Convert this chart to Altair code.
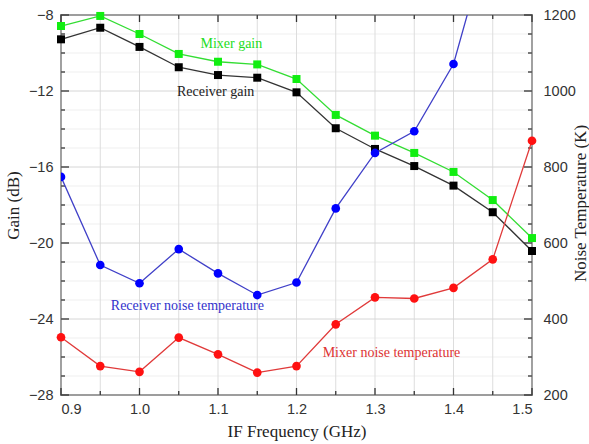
import altair as alt
import pandas as pd

freq = [0.9, 0.95, 1.0, 1.05, 1.1, 1.15, 1.2, 1.25, 1.3, 1.35, 1.4, 1.45, 1.5]
mixer_gain = [-8.58, -8.05, -9.0, -10.05, -10.46, -10.6, -11.37, -13.26, -14.35, -15.26, -16.26, -17.74, -19.74]
receiver_gain = [-9.28, -8.67, -9.68, -10.75, -11.16, -11.3, -12.07, -13.96, -15.05, -15.95, -16.98, -18.38, -20.42]
receiver_noise = [774, 542, 494, 584, 520, 463, 496, 691, 837, 894, 1071, 1440]
mixer_noise = [352, 276, 261, 351, 307, 259, 276, 386, 457, 454, 482, 557, 869]

x_labels = [0.9, 1.0, 1.1, 1.2, 1.3, 1.4, 1.5]
x_ticks = [0.9, 0.95, 1.0, 1.05, 1.1, 1.15, 1.2, 1.25, 1.3, 1.35, 1.4, 1.45, 1.5]
gain_labels = [-28, -24, -20, -16, -12, -8]
gain_minor = [v for v in range(-27, -8) if v % 4 != 0]
noise_labels = [200, 400, 600, 800, 1000, 1200]

ann_text = ["Mixer gain", "Receiver gain", "Receiver noise temperature", "Mixer noise temperature"]
ann_x = [1.117, 1.097, 1.061, 1.321]
ann_y = [-9.53, -12.05, -23.32, -25.81]
ann_color = ["#22dd22", "#222222", "#3333cc", "#dd3333"]

W, H = 471, 380
SANS = "Liberation Sans"
SERIF = "Liberation Serif"

xscale = alt.Scale(domain=[0.9, 1.5], nice=False, zero=False)
yscale = alt.Scale(domain=[-28, -8], nice=False, zero=False)
nscale = alt.Scale(domain=[200, 1200], nice=False, zero=False)

xaxis = alt.Axis(values=x_labels, format=".1f", labelFont=SANS, labelFontSize=14.5,
                 labelColor="#333", ticks=False, domain=False, grid=False, labelPadding=7,
                 title="IF Frequency (GHz)", titleFont=SERIF, titleFontSize=17,
                 titleFontWeight="normal", titleColor="#222", titleBaseline="middle",
                 titleY=36)
yaxis = alt.Axis(values=gain_labels, format="d", labelFont=SANS, labelFontSize=14.5,
                 labelColor="#333", ticks=False, domain=False, grid=False, labelPadding=8,
                 title="Gain (dB)", titleFont=SERIF, titleFontSize=17, titleFontWeight="normal",
                 titleColor="#222", titleAngle=270, titleBaseline="middle", titleX=-48, titleY=H / 2)
naxis = alt.Axis(values=noise_labels, format="d", orient="right", labelFont=SANS,
                 labelFontSize=14.5, labelColor="#333", ticks=False, domain=False, grid=False,
                 labelPadding=11,
                 title="Noise Temperature (K)", titleFont=SERIF, titleFontSize=17,
                 titleFontWeight="normal", titleColor="#222", titleAngle=270,
                 titleBaseline="middle", titleX=48, titleY=H / 2 - 2)

X = alt.X("x:Q", scale=xscale, axis=xaxis)
Y = alt.Y("y:Q", scale=yscale, axis=yaxis)
N = alt.Y("y:Q", scale=nscale, axis=naxis)

mg = pd.DataFrame({"x": freq, "y": mixer_gain})
rg = pd.DataFrame({"x": freq, "y": receiver_gain})
rn = pd.DataFrame({"x": freq[:len(receiver_noise)], "y": receiver_noise})
mn = pd.DataFrame({"x": freq, "y": mixer_noise})

vgrid = pd.DataFrame({"x": x_ticks})
hmajor = pd.DataFrame({"y": gain_labels})
hminor = pd.DataFrame({"y": gain_minor})
xmaj = pd.DataFrame({"x": x_labels})
xmin_ = pd.DataFrame({"x": [v for v in x_ticks if v not in x_labels]})
ann = pd.DataFrame({"x": ann_x, "y": ann_y, "t": ann_text, "c": ann_color})

layers = []
layers.append(alt.Chart(hminor).mark_rule(color="#efefef", strokeWidth=1).encode(y=Y))
layers.append(alt.Chart(vgrid).mark_rule(color="#dddddd", strokeWidth=1).encode(x=X))
layers.append(alt.Chart(hmajor).mark_rule(color="#d6d6d6", strokeWidth=1).encode(y=Y))
# inward ticks
for df, ln in [(xmaj, 7), (xmin_, 4)]:
    layers.append(alt.Chart(df).mark_rule(color="#333", strokeWidth=1.3).encode(
        x=X, y=alt.value(H), y2=alt.value(H - ln)))
    layers.append(alt.Chart(df).mark_rule(color="#333", strokeWidth=1.3).encode(
        x=X, y=alt.value(0), y2=alt.value(ln)))
for df, ln in [(hmajor, 8), (hminor, 4)]:
    layers.append(alt.Chart(df).mark_rule(color="#333", strokeWidth=1.3).encode(
        y=Y, x=alt.value(0), x2=alt.value(ln)))
    layers.append(alt.Chart(df).mark_rule(color="#333", strokeWidth=1.3).encode(
        y=Y, x=alt.value(W), x2=alt.value(W - ln)))

layers.append(alt.Chart(mg).mark_line(color="#33dd33", strokeWidth=1.3).encode(x=X, y=Y))
layers.append(alt.Chart(mg).mark_point(shape="square", filled=True, size=64, color="#11ee11",
                                       opacity=1).encode(x=X, y=Y))
layers.append(alt.Chart(rg).mark_line(color="#333333", strokeWidth=1.3).encode(x=X, y=Y))
layers.append(alt.Chart(rg).mark_point(shape="square", filled=True, size=64, color="#000000",
                                       opacity=1).encode(x=X, y=Y))
layers.append(alt.Chart(ann).mark_text(font=SERIF, fontSize=14, align="center",
                                       baseline="middle").encode(
    x=X, y=Y, text="t:N", color=alt.Color("c:N", scale=None)))

left = alt.layer(*layers)

right = alt.layer(
    alt.Chart(rn).mark_line(color="#4040c8", strokeWidth=1.3, clip=True).encode(x=X, y=N),
    alt.Chart(rn).mark_point(shape="circle", filled=True, size=75, color="#0000ff", opacity=1,
                             clip=True).encode(x=X, y=N),
    alt.Chart(mn).mark_line(color="#e03a3a", strokeWidth=1.3).encode(x=X, y=N),
    alt.Chart(mn).mark_point(shape="circle", filled=True, size=75, color="#ff1111",
                             opacity=1).encode(x=X, y=N),
)

chart = alt.layer(left, right).resolve_scale(y="independent").properties(
    width=W, height=H,
    autosize=alt.AutoSizeParams(type="none"),
    padding={"left": 61, "top": 15, "right": 57, "bottom": 49},
    background="white",
).configure_view(stroke="#333333", strokeWidth=1.5)

chart.save("out.html", embed_options={"renderer": "svg", "actions": False})
